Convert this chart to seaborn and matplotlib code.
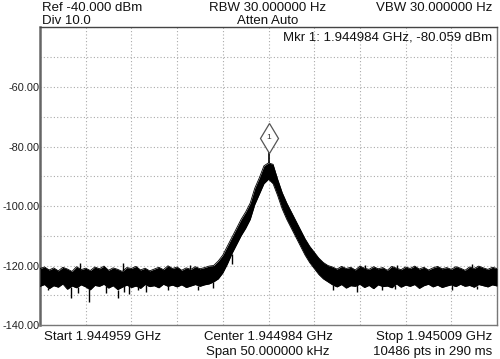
import numpy as np
import pandas as pd
import matplotlib
matplotlib.use("Agg")
import matplotlib.pyplot as plt
import matplotlib.transforms as mtransforms
import seaborn as sns

# ---- data (offset from centre in kHz, level in dBm) ----
freq_khz = list(np.arange(-25.0, 25.01, 0.5))

upper_db = [
    -121.0, -120.5, -121.5, -120.8, -121.8, -120.6, -121.2, -122.0, -120.4, -121.4,
    -120.9, -121.7, -120.5, -121.1, -120.2, -121.6, -120.8, -121.3, -122.0, -120.7,
    -121.0, -120.3, -121.5, -120.9, -121.8, -121.2, -120.6, -121.4, -120.1, -121.0,
    -120.5, -121.6, -120.8, -121.3, -120.4, -121.1, -120.7, -120.2,
    -120.0, -118.5, -116.5, -113.5, -110.5, -107.5, -104.5, -102.0, -99.0, -94.0,
    -90.5, -86.5, -85.5, -86.0, -91.0, -95.5, -99.0, -102.0, -105.0, -108.0,
    -111.0, -113.5, -115.5, -117.5, -119.0, -120.0,
    -120.5, -121.2, -120.3, -121.0, -120.6, -121.5, -120.2, -120.9, -121.3, -120.4,
    -121.1, -120.7, -121.6, -120.3, -120.9, -121.4, -120.5, -121.0, -120.2, -121.2,
    -120.6, -121.5, -120.8, -120.3, -121.1, -120.7, -121.3, -120.4, -120.9, -121.6,
    -120.5, -121.0, -120.2, -120.8, -121.3, -120.6, -121.0,
]
lower_db = [
    -127.0, -126.4, -127.8, -126.8, -127.3, -126.2, -128.0, -126.9, -127.5, -126.5,
    -127.2, -128.2, -126.7, -127.0, -126.3, -127.6, -126.8, -128.1, -127.3, -126.6,
    -127.4, -126.9, -127.7, -126.4, -127.1, -126.8, -127.5, -126.3, -127.0, -126.6,
    -127.2, -126.5, -127.4, -126.9, -126.4, -127.0, -126.5, -126.2,
    -125.5, -124.5, -122.5, -119.5, -116.0, -113.0, -110.0, -107.5, -104.5, -99.5,
    -96.0, -92.5, -91.0, -92.5, -96.5, -101.0, -104.5, -107.5, -110.5, -113.5,
    -116.5, -119.0, -121.0, -123.0, -124.5, -125.5,
    -126.5, -127.2, -126.4, -127.6, -126.8, -127.0, -126.3, -127.4, -126.7, -127.8,
    -126.5, -127.1, -126.9, -127.5, -126.2, -127.3, -126.6, -127.0, -126.4, -127.7,
    -126.8, -126.3, -127.2, -126.6, -127.4, -126.9, -126.5, -127.1, -126.3, -127.0,
    -126.7, -127.3, -126.4, -126.8, -127.2, -126.5, -126.9,
]

# downward noise spikes
spike_dn_khz = [-24.1, -21.6, -20.8, -19.6, -17.8, -16.5, -15.8, -15.3, -14.3, -13.4,
                -11.0, -7.7, -6.1, -4.0, 7.1, 9.7, 12.4, 13.8, 20.1, 22.8]
spike_dn_db = [-128.2, -130.9, -129.2, -132.3, -129.2, -130.9, -128.9, -129.6, -128.2, -128.9,
               -128.2, -128.2, -127.5, -119.5, -128.2, -128.9, -128.2, -127.8, -128.2, -127.8]
# upward noise spikes
spike_up_khz = [-20.6, -15.9, -8.6, 10.6, 14.1, 22.3]
spike_up_db = [-119.2, -119.2, -119.9, -119.9, -119.9, -119.5]

marker_khz = 0.0
marker_db = -80.059

yticks = [-140, -120, -100, -80, -60]
ytick_labels = ["-140.00", "-120.00", "-100.00", "-80.00", "-60.00"]

df = pd.DataFrame({"freq": freq_khz, "upper": upper_db, "lower": lower_db})

# ---- figure ----
sns.set_theme(style="white")
plt.rcParams["font.family"] = ["Liberation Sans", "DejaVu Sans"]

fig = plt.figure(figsize=(5.0, 3.59), dpi=100)
ax = fig.add_axes([0.08, 0.0947, 0.914, 0.8287])

ax.fill_between(df["freq"], df["lower"], df["upper"], color="black", lw=0, zorder=3)
sns.lineplot(data=df, x="freq", y="upper", ax=ax, color="black", lw=0.6, zorder=3)
sns.lineplot(data=df, x="freq", y="lower", ax=ax, color="black", lw=0.6, zorder=3)

low_interp = np.interp(spike_dn_khz, freq_khz, lower_db)
ax.vlines(spike_dn_khz, spike_dn_db, low_interp, color="black", lw=1.0, zorder=3)
up_interp = np.interp(spike_up_khz, freq_khz, upper_db)
ax.vlines(spike_up_khz, up_interp, spike_up_db, color="black", lw=1.0, zorder=3)

# marker spike
peak_here = np.interp(marker_khz, freq_khz, upper_db)
ax.vlines([marker_khz], [peak_here], [marker_db], color="black", lw=1.2, zorder=3)

# marker diamond with "1"
off = mtransforms.offset_copy(ax.transData, fig=fig, x=0, y=9, units="dots")
ax.plot([marker_khz], [marker_db], marker="d", ms=15, mfc="white", mec="#555555",
        mew=0.9, transform=off, zorder=5, clip_on=False)
ax.text(marker_khz, marker_db, "1", transform=off, ha="center", va="center",
        fontsize=6, color="#333333", zorder=6)

ax.set_xlim(-25, 25)
ax.set_ylim(-140, -40)
ax.set_xticks(np.arange(-25, 25.01, 5))
ax.set_xticklabels([])
grid_y = np.arange(-140, -39, 10)
ax.set_yticks(grid_y)
ax.set_yticklabels([ytick_labels[yticks.index(v)] if v in yticks else "" for v in grid_y])
ax.tick_params(axis="y", length=0, pad=0.5, labelsize=7.9, labelcolor="#222222")
ax.tick_params(axis="x", length=0)
ax.set_xlabel("")
ax.set_ylabel("")
ax.grid(True, color="#aaaaaa", lw=0.8, ls=(0, (1, 2)))

for side, sp in ax.spines.items():
    sp.set_visible(True)
    sp.set_color("#777777")
    sp.set_linewidth(1.0)
ax.spines["left"].set_linewidth(1.8)
ax.spines["left"].set_color("#666666")
ax.spines["top"].set_color("#444444")

fs = 9.5
tc = "#111111"
fig.text(42 / 500, 1 - 8 / 359, "Ref -40.000 dBm", ha="left", va="center", fontsize=fs, color=tc)
fig.text(42 / 500, 1 - 21 / 359, "Div 10.0", ha="left", va="center", fontsize=fs, color=tc)
fig.text(268 / 500, 1 - 8 / 359, "RBW 30.000000 Hz", ha="center", va="center", fontsize=fs, color=tc)
fig.text(268 / 500, 1 - 21 / 359, "Atten Auto", ha="center", va="center", fontsize=fs, color=tc)
fig.text(492 / 500, 1 - 8 / 359, "VBW 30.000000 Hz", ha="right", va="center", fontsize=fs, color=tc)
fig.text(492 / 500, 1 - 38 / 359, "Mkr 1: 1.944984 GHz, -80.059 dBm", ha="right", va="center",
         fontsize=fs, color=tc)

fig.text(44 / 500, 1 - 337 / 359, "Start 1.944959 GHz", ha="left", va="center", fontsize=fs, color=tc)
fig.text(268 / 500, 1 - 337 / 359, "Center 1.944984 GHz", ha="center", va="center", fontsize=fs, color=tc)
fig.text(268 / 500, 1 - 352 / 359, "Span 50.000000 kHz", ha="center", va="center", fontsize=fs, color=tc)
fig.text(492 / 500, 1 - 337 / 359, "Stop 1.945009 GHz", ha="right", va="center", fontsize=fs, color=tc)
fig.text(492 / 500, 1 - 352 / 359, "10486 pts in 290 ms", ha="right", va="center", fontsize=fs, color=tc)

fig.savefig("out.png", dpi=100)
